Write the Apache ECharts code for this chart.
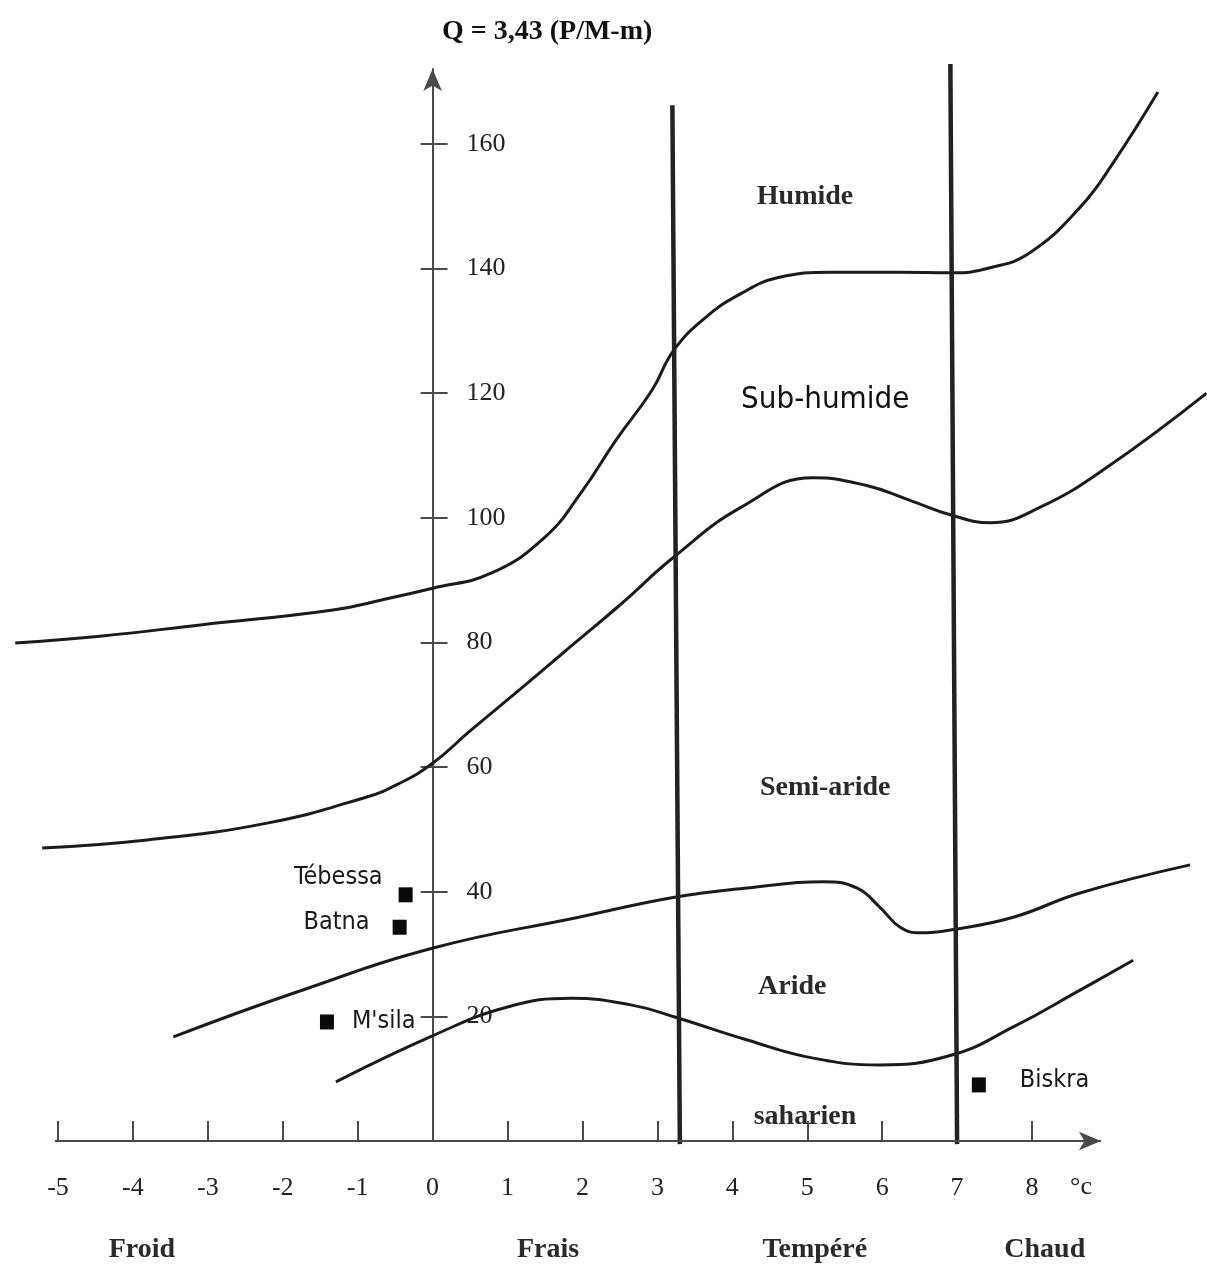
<!DOCTYPE html>
<html>
<head>
<meta charset="utf-8">
<title>Climagramme d'Emberger</title>
<script src="https://cdn.jsdelivr.net/npm/echarts@6/dist/echarts.min.js"></script>
<style>
  html, body { margin: 0; padding: 0; background: #fff; }
  #chart { width: 1207px; height: 1270px; }
</style>
</head>
<body>
<div id="chart"></div>
<script>
// axes : m (°C) en abscisse, Q en ordonnée
const mTicks = [-5, -4, -3, -2, -1, 0, 1, 2, 3, 4, 5, 6, 7, 8];
const qTicks = [20, 40, 60, 80, 100, 120, 140, 160];
const mAxisEnds = [-5.04, 8.92];

// limites des étages bioclimatiques [m, Q]
const humideLimit = [[-5.57, 79.9], [-4.44, 81.0], [-3.10, 82.8], [-1.33, 85.2], [-0.61, 87.0], [0, 88.7],
  [0.78, 91.1], [1.50, 96.9], [1.98, 104.0], [2.45, 112.5], [2.93, 120.5], [3.22, 126.9], [3.65, 132.2],
  [4.12, 136.0], [4.60, 138.5], [5.32, 139.4], [6.24, 139.4], [6.93, 139.3], [7.44, 140.1], [7.97, 142.5],
  [8.64, 149.8], [9.08, 156.9], [9.68, 168.3]];
const subHumideLimit = [[-5.21, 47.0], [-3.81, 48.3], [-2.21, 51.0], [-0.88, 55.2], [-0.44, 57.4], [0, 60.6],
  [0.50, 65.8], [1.17, 72.5], [1.74, 78.3], [2.50, 86.0], [3.22, 93.7], [4.12, 101.7], [5.08, 106.4],
  [5.78, 105.2], [6.37, 102.8], [6.93, 100.4], [7.44, 99.2], [8.11, 101.7], [9.00, 108.1], [10.33, 120.0]];
const semiArideLimit = [[-3.46, 16.7], [-1.86, 23.7], [0.02, 31.0], [1.95, 35.9], [3.23, 39.1], [4.20, 40.6],
  [5.21, 41.6], [5.66, 40.6], [5.97, 37.5], [6.24, 34.3], [6.51, 33.4], [6.93, 33.9], [7.75, 35.9],
  [8.64, 39.8], [10.11, 44.3]];
const arideLimit = [[-1.29, 9.5], [0.02, 17.0], [1.0, 21.5], [1.85, 22.9], [2.66, 21.8], [3.23, 19.9],
  [4.20, 16.2], [5.08, 13.3], [5.97, 12.2], [6.93, 13.8], [7.75, 18.3], [8.64, 24.2], [9.35, 29.0]];

// séparations des variantes thermiques
const limitM3 = [[3.20, 166.2], [3.30, -0.5]];
const limitM7 = [[6.91, 172.8], [7.00, -0.5]];

// stations
const stations = ['Tébessa', 'Batna', "M'sila", 'Biskra'];
const stationM = [-0.36, -0.44, -1.41, 7.29];
const stationQ = [39.5, 34.3, 19.1, 9.0];

// étages
const etages = ['Humide', 'Sub-humide', 'Semi-aride', 'Aride', 'saharien'];
const etageM = [4.97, 5.24, 5.24, 4.80, 4.97];
const etageQ = [151.5, 118.9, 56.6, 24.7, 3.85];

// variantes hivernales
const hivers = ['Froid', 'Frais', 'Tempéré', 'Chaud'];
const hiverM = [-3.88, 1.54, 5.10, 8.17];

const SERIF = '"Liberation Serif", "DejaVu Serif", serif';
const NARROW = '"Liberation Sans Narrow", "DejaVu Sans Condensed", "Liberation Sans", sans-serif';
const INK = '#1b1b1b';
const AXIS = '#4a4a4a';
const Y_OFFSET = -422.6; // axe des Q placé sur m = 0

const chart = echarts.init(document.getElementById('chart'));

function limitSeries(data) {
  return {
    type: 'line', data: data, smooth: 0.45,
    symbol: 'none', clip: false, silent: true,
    lineStyle: { color: INK, width: 3 }
  };
}

function separator(data) {
  return {
    type: 'line', data: data, symbol: 'none', clip: false, silent: true,
    lineStyle: { color: '#222', width: 4.5 }
  };
}

// placement des noms de stations autour du carré
const stationLabel = {
  'Tébessa': { position: 'left', distance: 16, offset: [0, -17] },
  'Batna': { position: 'left', distance: 23, offset: [0, -5] },
  "M'sila": { position: 'right', distance: 18, offset: [0, 0] },
  'Biskra': { position: 'right', distance: 34, offset: [0, -4] }
};

const etageFont = {
  'Sub-humide': { fontFamily: NARROW, fontSize: 31, fontWeight: 'normal', color: '#111' }
};

const textLabel = {
  show: true, position: 'inside', formatter: '{b}',
  fontFamily: SERIF, fontSize: 28, fontWeight: 'bold', color: '#2a2a2a'
};

const option = {
  animation: false,
  backgroundColor: '#fff',
  title: {
    text: 'Q = 3,43 (P/M-m)',
    left: 442, top: 18, padding: 0,
    textStyle: { fontFamily: SERIF, fontSize: 28, fontWeight: 'bold', color: '#111' }
  },
  grid: { left: 10, right: 0, top: 69, bottom: 129, outerBoundsMode: 'none' },
  xAxis: {
    type: 'value', min: -5.64, max: 10.335,
    axisLine: { show: false, onZero: false },
    axisTick: { inside: true, length: 20, customValues: mTicks, lineStyle: { color: AXIS, width: 2 } },
    axisLabel: { customValues: mTicks, margin: 34, fontFamily: SERIF, fontSize: 26, color: '#222' },
    splitLine: { show: false },
    name: '°c', nameLocation: 'end', nameGap: -137,
    nameTextStyle: { fontFamily: SERIF, fontSize: 26, color: '#222', verticalAlign: 'top', padding: [33, 0, 0, 0] }
  },
  yAxis: [
    {
      type: 'value', position: 'left', offset: Y_OFFSET, min: 0, max: 172,
      axisLine: {
        show: true, onZero: false, symbol: ['none', 'arrow'], symbolSize: [14, 22],
        lineStyle: { color: AXIS, width: 2 }
      },
      axisTick: { show: true, length: 12, customValues: qTicks, lineStyle: { color: AXIS, width: 2 } },
      axisLabel: { inside: true, margin: 34, customValues: qTicks, fontFamily: SERIF, fontSize: 26, color: '#222' },
      splitLine: { show: false }
    },
    {
      // ticks côté droit pour former des croix
      type: 'value', position: 'left', offset: Y_OFFSET, min: 0, max: 172,
      axisLine: { show: false, onZero: false },
      axisTick: { show: true, inside: true, length: 15, customValues: qTicks, lineStyle: { color: AXIS, width: 2 } },
      axisLabel: { show: false },
      splitLine: { show: false }
    }
  ],
  series: [
    limitSeries(humideLimit),
    limitSeries(subHumideLimit),
    limitSeries(semiArideLimit),
    limitSeries(arideLimit),
    separator(limitM3),
    separator(limitM7),
    {
      // axe des m avec flèche
      type: 'line', data: [], silent: true,
      markLine: {
        silent: true, symbol: ['none', 'arrow'], symbolSize: [14, 22], label: { show: false },
        lineStyle: { color: AXIS, width: 2, type: 'solid' },
        data: [[{ coord: [mAxisEnds[0], 0] }, { coord: [mAxisEnds[1], 0] }]]
      }
    },
    {
      type: 'scatter', symbol: 'rect', symbolSize: [14, 15], clip: false, silent: true,
      itemStyle: { color: '#0a0a0a', opacity: 1 },
      data: stations.map((n, i) => ({
        name: n, value: [stationM[i], stationQ[i]],
        label: Object.assign({ show: true, formatter: '{b}' }, stationLabel[n])
      })),
      label: { fontFamily: NARROW, fontSize: 25, color: '#1a1a1a' }
    },
    {
      type: 'scatter', symbolSize: 1, clip: false, silent: true,
      itemStyle: { color: 'rgba(0,0,0,0)', opacity: 1 },
      data: etages.map((n, i) => ({
        name: n, value: [etageM[i], etageQ[i]],
        label: Object.assign({}, etageFont[n] || {})
      })),
      label: textLabel
    },
    {
      type: 'scatter', symbolSize: 1, clip: false, silent: true,
      itemStyle: { color: 'rgba(0,0,0,0)', opacity: 1 },
      data: hivers.map((n, i) => ({ name: n, value: [hiverM[i], -17.5] })),
      label: textLabel
    }
  ]
};

chart.setOption(option);
</script>
</body>
</html>
